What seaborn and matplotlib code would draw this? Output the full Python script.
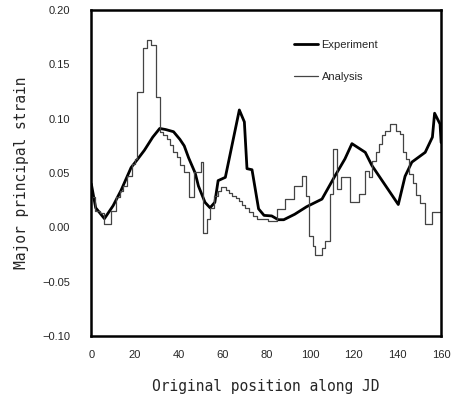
import matplotlib
matplotlib.use("Agg")
import matplotlib.pyplot as plt
import seaborn as sns
import pandas as pd

# Experiment (thick line)
exp_x = [0, 2, 6, 10, 13.6, 18.2, 21.3, 24.3, 28.1, 31.3, 34, 37.6, 40.5, 42.5, 44.5, 47.5, 49, 52, 54.3,
         56.5, 58, 61.3, 67.7, 70, 71.2, 73.5, 76.5, 79, 82.5, 85.5, 88, 93, 98.5, 105.5, 111.5, 116, 119.2,
         125.3, 128.3, 140.4, 143.5, 146.6, 152.7, 156, 157, 159.5, 160]
exp_y = [0.040, 0.018, 0.008, 0.020, 0.034, 0.055, 0.063, 0.071, 0.083, 0.091, 0.090, 0.088, 0.081, 0.075,
         0.064, 0.050, 0.038, 0.023, 0.018, 0.023, 0.043, 0.046, 0.108, 0.097, 0.054, 0.053, 0.017, 0.011,
         0.0105, 0.007, 0.007, 0.012, 0.019, 0.026, 0.0475, 0.063, 0.077, 0.069, 0.057, 0.021, 0.047, 0.060,
         0.069, 0.083, 0.105, 0.095, 0.078]

# Analysis (thin stepped line)
ana_x = [0, 1.5, 4, 6, 9, 11.5, 13, 14.5, 16.5, 18.5, 20, 21, 23.5, 25.5, 27.5, 29.5, 31.5, 33, 34.5, 36,
         37.5, 39, 40.5, 42.5, 44.5, 47, 50, 51, 53, 54.5, 56, 58, 59.5, 61.5, 63, 64.5, 66, 67.5, 69, 70.5,
         72, 74, 76, 81, 85, 88.7, 92.5, 96.3, 98, 99.5, 101.5, 102.5, 105.4, 107, 109, 110.5, 112.5, 114.3,
         118.4, 122.5, 125.4, 127, 128.3, 130, 131.5, 133, 134.5, 136.5, 139.5, 141, 142.5, 144, 145.5, 147,
         148.5, 150.5, 152.7, 156, 160]
ana_y = [0.028, 0.015, 0.013, 0.003, 0.015, 0.028, 0.033, 0.038, 0.0475, 0.058, 0.063, 0.125, 0.165, 0.172,
         0.168, 0.120, 0.088, 0.085, 0.081, 0.076, 0.069, 0.065, 0.057, 0.051, 0.028, 0.051, 0.060, -0.005,
         0.0075, 0.018, 0.029, 0.033, 0.037, 0.034, 0.032, 0.029, 0.027, 0.024, 0.021, 0.018, 0.014, 0.0105,
         0.0075, 0.006, 0.017, 0.026, 0.038, 0.0475, 0.029, -0.008, -0.017, -0.025, -0.019, -0.013, 0.031,
         0.072, 0.035, 0.046, 0.023, 0.031, 0.052, 0.046, 0.061, 0.069, 0.077, 0.085, 0.089, 0.095, 0.089,
         0.086, 0.069, 0.063, 0.049, 0.041, 0.030, 0.022, 0.003, 0.014, 0.014]

x_ticks = [0, 20, 40, 60, 80, 100, 120, 140, 160]
y_ticks = [-0.10, -0.05, 0.00, 0.05, 0.10, 0.15, 0.20]

sns.set_style("ticks")
plt.rcParams['font.family'] = ['Liberation Sans', 'DejaVu Sans']

fig = plt.figure(figsize=(4.52, 4.00), dpi=100)
ax = fig.add_axes([0.202, 0.16, 0.774, 0.815])

df_exp = pd.DataFrame({"x": exp_x, "y": exp_y})
df_ana = pd.DataFrame({"x": ana_x, "y": ana_y})

sns.lineplot(data=df_exp, x="x", y="y", ax=ax, color="black", linewidth=2.0, label="Experiment",
             estimator=None, sort=False)
sns.lineplot(data=df_ana, x="x", y="y", ax=ax, color="#444444", linewidth=0.9, label="Analysis",
             estimator=None, sort=False, drawstyle="steps-post")

ax.set_xlim(0, 160)
ax.set_ylim(-0.10, 0.20)
ax.set_xticks(x_ticks)
ax.set_xticklabels([str(t) for t in x_ticks], fontsize=8)
ax.set_yticks(y_ticks)
ax.set_yticklabels([f"{t:.2f}".replace("-", "\u2212") for t in y_ticks], fontsize=8)
ax.tick_params(axis="both", length=0)
ax.tick_params(axis="y", pad=15)
ax.tick_params(axis="x", pad=10)

for s in ax.spines.values():
    s.set_visible(True)
    s.set_linewidth(1.8)
    s.set_color("black")

ax.set_xlabel("Original position along JD", fontsize=10.5, family="DejaVu Sans Mono", labelpad=14)
ax.set_ylabel("Major principal strain", fontsize=10.5, family="DejaVu Sans Mono", labelpad=10)

leg = ax.legend(loc="upper left", bbox_to_anchor=(0.55, 0.94), frameon=False, fontsize=8,
                handlelength=2.2, handletextpad=0.3, labelspacing=2.0)

fig.savefig("out.png", dpi=100)
